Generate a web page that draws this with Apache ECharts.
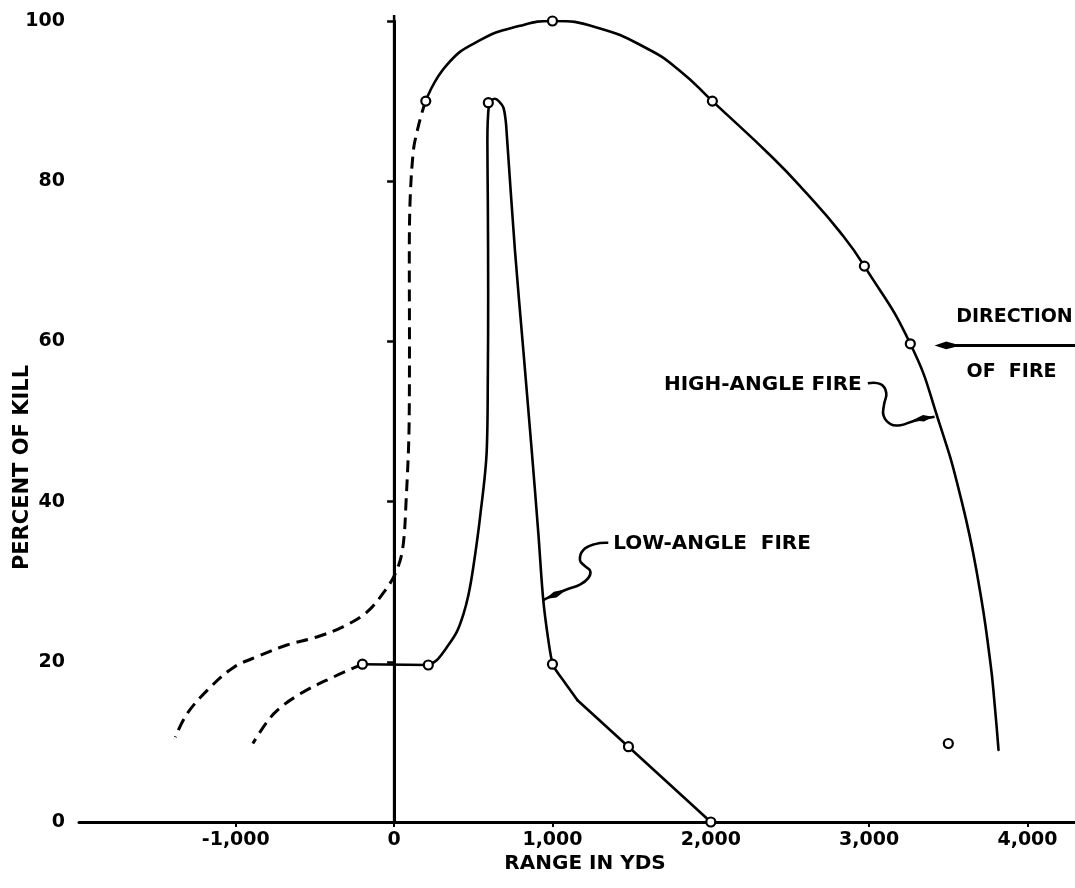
<!DOCTYPE html>
<html>
<head>
<meta charset="utf-8">
<script src="https://cdn.jsdelivr.net/npm/echarts@6/dist/echarts.min.js"></script>
<style>
html,body{margin:0;padding:0;background:#ffffff;}
#chart{width:1075px;height:888px;}
</style>
</head>
<body>
<div id="chart"></div>
<script>
// ---------------- data ----------------
const xTickValues = [-1000, 0, 1000, 2000, 3000, 4000];
const yTickValues = [0, 20, 40, 60, 80, 100];

// High-angle fire: solid curve (range yds, percent of kill)
const highAngleSolid = [[200,90],[332,94.5],[543,97.6],[795,99.4],[1000,100],[1279,99.2],[1594,96.6],[1804,93.8],[2010,90],[2393,82.9],[2604,78.5],[2814,73.7],[2970,69.4],[3260,59.7],[3440,50],[3585,40],[3690,30],[3765,20],[3792,14.8],[3817,9.0]];
// High-angle fire: dashed (extrapolated) part
const highAngleDashed = [[200,90],[175,88.5],[145,86.2],[122,83.9],[101,77.6],[96,70],[97,60],[95,50],[76,40.2],[54,34.1],[12,31.2],[-57,28.9],[-172,26.2],[-320,24.4],[-488,23.1],[-677,22.1],[-845,20.8],[-1014,19.3],[-1182,16.4],[-1308,13.5],[-1382,10.6]];
// High-angle fire: plotted observations
const highAngleMarkers = [[200,90],[1000,100],[2010,90],[2970,69.4],[3260,59.7]];
const highAngleOutlier = [[3500,9.8]];

// Low-angle fire: solid parts
const lowAngleFlat = [[-200,19.7],[216,19.6]];
const lowAngleCurve = [[216,19.6],[269,20.2],[332,21.8],[395,23.7],[437,25.9],[469,28.3],[500,31.8],[543,38.1],[585,46.4],[592,56],[594,66],[592,77],[589,85],[598,89.4],[615,90.1],[637,90.3],[665,89.9],[690,89.2],[705,87.5],[711,86],[763,71.4],[816,58.9],[869,46.4],[911,36],[942,27.7],[974,22.7],[1001,19.7],[1020,19],[1082,17.3],[1158,15.2]];
const lowAngleTail = [[1158,15.2],[1480,9.4],[2000,0]];
// Low-angle fire: dashed (extrapolated) part
const lowAngleDashed = [[-200,19.7],[-383,18.1],[-593,16.0],[-761,13.5],[-892,9.8]];
// Low-angle fire: plotted observations
const lowAngleMarkers = [[-200,19.7],[216,19.6],[595,89.8],[1000,19.7],[1480,9.4],[2000,0]];

// Zero-range reference line
const zeroRangeLine = [[0,0],[0,100.75]];

// ---------------- chart ----------------
const FONT = 'DejaVu Sans';
const INK = '#000000';
const chart = echarts.init(document.getElementById('chart'), null, {renderer: 'canvas'});

function fmt(v){
  const s = Math.abs(v).toString().replace(/\B(?=(\d{3})+(?!\d))/g, ',');
  return (v < 0 ? '-' : '') + s;
}

const solidLine = {color: INK, width: 2.6, cap: 'round', join: 'round'};
const dashedLine = {color: INK, width: 3, type: [12, 7], cap: 'butt'};
const markerStyle = {color: '#ffffff', borderColor: INK, borderWidth: 2.2, opacity: 1};

const option = {
  animation: false,
  backgroundColor: '#ffffff',
  grid: {left: 79, right: 0, top: 21, bottom: 66, containLabel: false, outerBoundsMode: 'none'},
  xAxis: {
    type: 'value', min: -1990, max: 4300,
    name: 'RANGE IN YDS', nameLocation: 'middle', nameGap: 32, nameMoveOverlap: false,
    nameTextStyle: {fontFamily: FONT, fontWeight: 'bold', fontSize: 20, color: INK, padding: [0, 0, 0, 16]},
    axisLine: {show: true, onZero: false, lineStyle: {color: INK, width: 3}},
    axisTick: {show: true, length: 5, customValues: xTickValues, lineStyle: {color: INK, width: 2}},
    axisLabel: {show: true, customValues: xTickValues, margin: 9, formatter: fmt,
      fontFamily: FONT, fontWeight: 'bold', fontSize: 19, color: INK},
    splitLine: {show: false}
  },
  yAxis: {
    type: 'value', min: 0, max: 100, interval: 20,
    name: 'PERCENT OF KILL', nameLocation: 'middle', nameRotate: 90, nameGap: 46, nameMoveOverlap: false,
    nameTextStyle: {fontFamily: FONT, fontWeight: 'bold', fontSize: 21, color: INK, padding: [0, 92, 0, 0]},
    axisLine: {show: true, lineStyle: {color: INK, width: 3}},
    axisTick: {show: true, length: 7, lineStyle: {color: INK, width: 2.5}},
    axisLabel: {show: true, margin: 14, fontFamily: FONT, fontWeight: 'bold', fontSize: 19, color: INK},
    splitLine: {show: false}
  },
  series: [
    {name: 'Zero range', type: 'line', data: zeroRangeLine, symbol: 'none', clip: false, silent: true,
     lineStyle: {color: INK, width: 2.5}, z: 1},
    {name: 'High-angle fire', type: 'line', data: highAngleSolid, symbol: 'none', smooth: 0.5,
     lineStyle: solidLine, z: 2},
    {name: 'High-angle fire (extrapolated)', type: 'line', data: highAngleDashed, symbol: 'none', smooth: 0.35,
     lineStyle: dashedLine, z: 2},
    {name: 'Low-angle fire', type: 'line', data: lowAngleFlat, symbol: 'none',
     lineStyle: solidLine, z: 2},
    {name: 'Low-angle fire', type: 'line', data: lowAngleCurve, symbol: 'none', smooth: 0.35,
     lineStyle: solidLine, z: 2},
    {name: 'Low-angle fire', type: 'line', data: lowAngleTail, symbol: 'none',
     lineStyle: solidLine, z: 2},
    {name: 'Low-angle fire (extrapolated)', type: 'line', data: lowAngleDashed, symbol: 'none', smooth: 0.35,
     lineStyle: dashedLine, z: 2},
    {name: 'High-angle observations', type: 'scatter', data: highAngleMarkers.concat(highAngleOutlier),
     symbol: 'circle', symbolSize: 9, itemStyle: markerStyle, z: 5},
    {name: 'Low-angle observations', type: 'scatter', data: lowAngleMarkers,
     symbol: 'circle', symbolSize: 9, itemStyle: markerStyle, z: 5}
  ]
};
chart.setOption(option);

// ---------------- annotations (anchored in data coordinates) ----------------
function px(p){ return chart.convertToPixel({gridIndex: 0}, p); }
function rel(base, offs){ return offs.map(o => [base[0] + o[0], base[1] + o[1]]); }
function spindle(tip, back, w){
  const dx = back[0] - tip[0], dy = back[1] - tip[1];
  const L = Math.sqrt(dx*dx + dy*dy);
  const nx = -dy / L, ny = dx / L;
  const mx = tip[0] + dx * 0.45, my = tip[1] + dy * 0.45;
  return [tip, [mx + nx*w, my + ny*w], back, [mx - nx*w, my - ny*w]];
}
const label = (t, x, y, align, size) => ({
  type: 'text', x: x, y: y, z: 10,
  style: {text: t, fill: INK, font: 'bold ' + size + 'px "' + FONT + '"', align: align, verticalAlign: 'middle'}
});

const graphics = [];
// Direction of fire
const dirC = px([3918, 63.0]);
graphics.push(label('DIRECTION', dirC[0], dirC[1], 'center', 19));
const offC = px([3899, 56.2]);
graphics.push(label('OF  FIRE', offC[0], offC[1], 'center', 19));
const arrTip = px([3413, 59.5]);
const arrEnd = px([4300, 59.5]);
graphics.push({type: 'line', z: 10, shape: {x1: arrTip[0] + 10, y1: arrTip[1], x2: arrEnd[0], y2: arrEnd[1]},
  style: {stroke: INK, lineWidth: 3}});
graphics.push({type: 'polygon', z: 10, shape: {points: spindle(arrTip, [arrTip[0] + 26, arrTip[1]], 3.8)},
  style: {fill: INK}});

// High-angle fire label + leader
const hiEnd = px([3413, 50.6]);
const hiText = px([2953, 54.6]);
graphics.push(label('HIGH-ANGLE FIRE', hiText[0], hiText[1], 'right', 20));
graphics.push({type: 'polyline', z: 10,
  shape: {points: rel(hiEnd, [[-66.7,-33.4],[-54,-32.5],[-48.3,-24],[-50.5,-12],[-51,-1],[-44,7.5],[-34,8.5],[-20,4],[0,0]]), smooth: 0.45},
  style: {stroke: INK, lineWidth: 2.6, fill: null}});
graphics.push({type: 'polygon', z: 10,
  shape: {points: spindle([hiEnd[0] - 2, hiEnd[1]], [hiEnd[0] - 22, hiEnd[1] + 3.5], 3.2)},
  style: {fill: INK}});

// Low-angle fire label + leader
const loEnd = px([942, 27.7]);
const loText = px([1384, 34.7]);
graphics.push(label('LOW-ANGLE  FIRE', loText[0], loText[1], 'left', 20));
graphics.push({type: 'polyline', z: 10,
  shape: {points: rel(loEnd, [[65,-57.3],[51.7,-56],[40,-50],[36.7,-40],[41.7,-34],[47,-29],[45,-22],[36.7,-15.5],[23.3,-10.7],[10,-5],[0,0]]), smooth: 0.45},
  style: {stroke: INK, lineWidth: 2.6, fill: null}});
graphics.push({type: 'polygon', z: 10,
  shape: {points: spindle([loEnd[0] + 2, loEnd[1] - 1], [loEnd[0] + 24, loEnd[1] - 11], 3.2)},
  style: {fill: INK}});

chart.setOption({graphic: {elements: graphics}});
</script>
</body>
</html>
